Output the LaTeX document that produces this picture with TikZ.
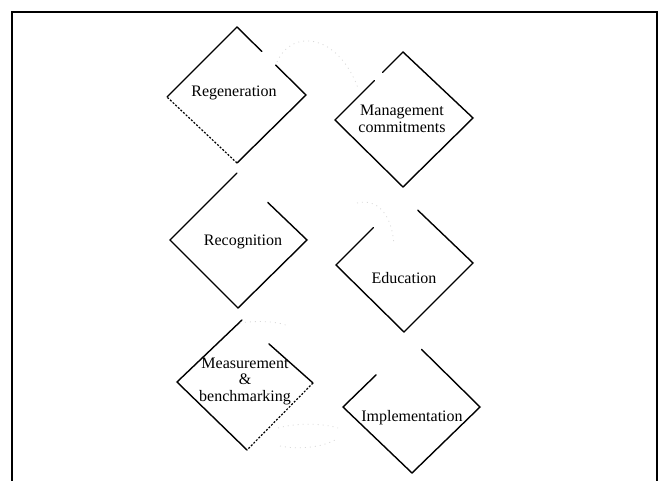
\documentclass[tikz,border=0pt]{standalone}
\usepackage{fontspec}
\setmainfont{Liberation Serif}
\usetikzlibrary{calc}
\begin{document}
\begin{tikzpicture}[x=1pt,y=-1pt,
  edge/.style={line width=1.4pt, line cap=round},
  dashedge/.style={line width=1.2pt, dash pattern=on 2pt off 1.6pt},
  lbl/.style={font=\fontsize{16}{16.5}\selectfont, align=center, inner sep=0pt},
  faint/.style={gray!30, line width=0.8pt, dash pattern=on 1pt off 4pt},
  frame/.style={line width=2.8pt}]
\useasboundingbox (0,0) rectangle (664,481);

% open frame
\draw[frame] (12,481) -- (12,12) -- (657,12) -- (657,481);

% labels
\node[lbl] (reg)  at (234,93)  {Regeneration};
\node[lbl] (mgmt) at (402,119) {Management\\commitments};
\node[lbl] (rec)  at (243,242) {Recognition};
\node[lbl] (edu)  at (404,278) {Education};
\node[lbl] (meas) at (245,381) {Measurement\\\&\\benchmarking};
\node[lbl] (impl) at (412,418) {Implementation};

% Regeneration diamond
\coordinate (regT) at (237,27);  \coordinate (regL) at (167,97);
\coordinate (regR) at (306,95);  \coordinate (regB) at (237,163);
\draw[edge] (regL) -- (regT) -- ($(regT)!0.36!(regR)$);
\draw[edge] ($(regT)!0.56!(regR)$) -- (regR) -- (regB);
\draw[dashedge] (regB) -- (regL);

% Management commitments diamond
\coordinate (mgT) at (403,52);  \coordinate (mgL) at (335,120);
\coordinate (mgR) at (473,118); \coordinate (mgB) at (403,187);
\draw[edge] ($(mgL)!0.58!(mgT)$) -- (mgL) -- (mgB) -- (mgR) -- (mgT) -- ($(mgT)!0.30!(mgL)$);

% Recognition diamond
\coordinate (rcT) at (237,173); \coordinate (rcL) at (170,240);
\coordinate (rcR) at (307,240); \coordinate (rcB) at (238,308);
\draw[edge] (rcT) -- (rcL) -- (rcB) -- (rcR) -- ($(rcR)!0.56!(rcT)$);

% Education diamond
\coordinate (edT) at (404,197); \coordinate (edL) at (336,265);
\coordinate (edR) at (473,263); \coordinate (edB) at (404,332);
\draw[edge] ($(edL)!0.55!(edT)$) -- (edL) -- (edB) -- (edR) -- ($(edR)!0.80!(edT)$);

% Measurement & benchmarking diamond
\coordinate (msT) at (242,320); \coordinate (msL) at (177,382);
\coordinate (msR) at (313,383); \coordinate (msB) at (247,450);
\draw[edge] (msT) -- (msL) -- (msB);
\draw[edge] ($(msR)!0.62!(msT)$) -- (msR);
\draw[dashedge] (msR) -- (msB);

% Implementation diamond
\coordinate (imT) at (412,340); \coordinate (imL) at (343,407);
\coordinate (imR) at (480,407); \coordinate (imB) at (412,473);
\draw[edge] ($(imL)!0.48!(imT)$) -- (imL) -- (imB) -- (imR) -- ($(imR)!0.86!(imT)$);

% faint cycle traces
\draw[faint] (277,62) .. controls (292,28) and (338,34) .. (358,88);
\draw[faint] (357,203) .. controls (378,198) and (392,215) .. (394,245);
\draw[faint] (240,323) .. controls (260,320) and (280,322) .. (288,326);
\draw[faint] (278,428) .. controls (300,422) and (325,424) .. (338,428);
\draw[faint] (280,446) .. controls (300,450) and (322,447) .. (335,440);
\end{tikzpicture}
\end{document}
